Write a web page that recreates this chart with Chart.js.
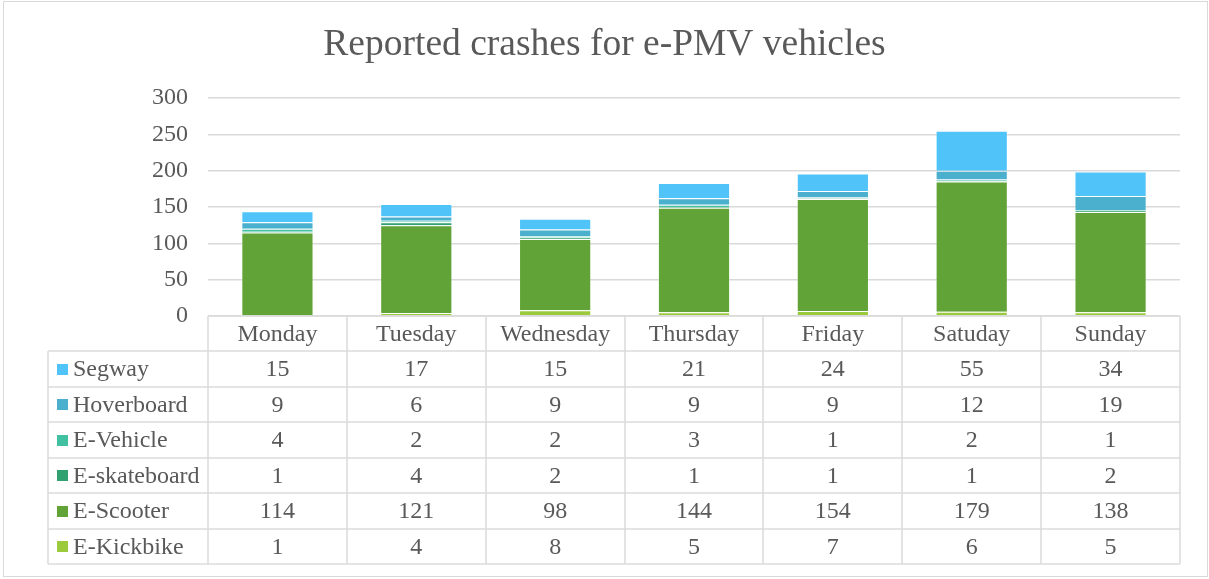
<!DOCTYPE html>
<html>
<head>
<meta charset="utf-8">
<script src="https://cdn.jsdelivr.net/npm/chart.js@4/dist/chart.umd.min.js"></script>
<style>
  html, body { margin: 0; padding: 0; background: #fff; }
  #wrap { position: relative; width: 1209px; height: 579px; }
  #frame { position: absolute; left: 3px; top: 1px; width: 1203px; height: 574px; border: 1px solid #d9d9d9; pointer-events: none; }
</style>
</head>
<body>
<div id="wrap">
  <canvas id="crashCanvas" width="1209" height="579"></canvas>
  <div id="frame"></div>
</div>
<script>
// Chart data
const days = ['Monday', 'Tuesday', 'Wednesday', 'Thursday', 'Friday', 'Satuday', 'Sunday'];
const segway = [15, 17, 15, 21, 24, 55, 34];
const hoverboard = [9, 6, 9, 9, 9, 12, 19];
const eVehicle = [4, 2, 2, 3, 1, 2, 1];
const eSkateboard = [1, 4, 2, 1, 1, 1, 2];
const eScooter = [114, 121, 98, 144, 154, 179, 138];
const eKickbike = [1, 4, 8, 5, 7, 6, 5];
const yTicks = [0, 50, 100, 150, 200, 250, 300];

const textColor = '#595959';
const lineColor = '#d9d9d9';
const serif = '"Liberation Serif", "Times New Roman", serif';

// bottom of the stack first
const series = [
  { label: 'E-Kickbike', data: eKickbike, color: '#9bcb3c' },
  { label: 'E-Scooter', data: eScooter, color: '#62a337' },
  { label: 'E-skateboard', data: eSkateboard, color: '#30a26f' },
  { label: 'E-Vehicle', data: eVehicle, color: '#41c1a2' },
  { label: 'Hoverboard', data: hoverboard, color: '#4bb0ce' },
  { label: 'Segway', data: segway, color: '#50c4f9' }
];

// Draws the data table under the plot, using the x scale for column positions
const dataTable = {
  id: 'dataTable',
  afterDraw(chart) {
    const ctx = chart.ctx;
    const x = chart.scales.x;
    const area = chart.chartArea;
    const colW = (area.right - area.left) / days.length;
    const top = area.bottom;
    const headH = 35;
    const rowH = 35.5;
    const leftX = 48;
    const rows = series.slice().reverse();
    const bottom = top + headH + rowH * rows.length;

    ctx.save();
    ctx.strokeStyle = '#dcdcdc';
    ctx.lineWidth = 1.6;
    ctx.beginPath();
    // top of header row
    ctx.moveTo(area.left, Math.round(top));
    ctx.lineTo(area.right, Math.round(top));
    // row lines
    for (let r = 0; r <= rows.length; r++) {
      const y = Math.round(top + headH + rowH * r);
      ctx.moveTo(leftX, y);
      ctx.lineTo(area.right, y);
    }
    // column lines
    ctx.moveTo(leftX, top + headH);
    ctx.lineTo(leftX, bottom);
    for (let i = 0; i <= days.length; i++) {
      const cx = Math.round(x.getPixelForValue(i) - colW / 2);
      ctx.moveTo(cx, top);
      ctx.lineTo(cx, bottom);
    }
    ctx.stroke();

    ctx.font = '24px ' + serif;
    ctx.fillStyle = textColor;
    ctx.textBaseline = 'middle';
    ctx.textAlign = 'center';
    days.forEach((d, i) => {
      ctx.fillText(d, x.getPixelForValue(i), top + headH / 2 + 1);
    });
    rows.forEach((s, r) => {
      const cy = top + headH + rowH * r + rowH / 2 + 1;
      ctx.textAlign = 'center';
      ctx.fillStyle = textColor;
      s.data.forEach((v, i) => {
        ctx.fillText(String(v), x.getPixelForValue(i), cy);
      });
      ctx.fillStyle = s.color;
      ctx.fillRect(57, Math.round(cy - 6), 11, 11);
      ctx.fillStyle = textColor;
      ctx.textAlign = 'left';
      ctx.fillText(s.label, 73, cy);
    });
    ctx.restore();
  }
};

const config = {
  type: 'bar',
  data: {
    labels: days,
    datasets: series.map(s => ({
      label: s.label,
      data: s.data,
      backgroundColor: s.color,
      borderColor: 'rgba(255,255,255,0.3)',
      borderWidth: 1,
      barPercentage: 1,
      categoryPercentage: 0.52
    }))
  },
  options: {
    responsive: false,
    animation: false,
    layout: { padding: { left: 0, right: 0, top: 0, bottom: 263 } },
    plugins: {
      legend: { display: false },
      tooltip: { enabled: false },
      title: {
        display: true,
        text: 'Reported crashes for e-PMV vehicles',
        color: textColor,
        font: { family: serif, size: 37.5, weight: 'normal' },
        padding: { top: 23, bottom: 30 }
      }
    },
    scales: {
      x: { stacked: true, display: false },
      y: {
        stacked: true,
        min: 0,
        max: 300,
        afterBuildTicks(scale) {
          scale.ticks = yTicks.map(v => ({ value: v }));
        },
        afterFit(scale) { scale.width = 208; },
        border: { display: false },
        grid: { color: lineColor, lineWidth: 1.5, drawTicks: false },
        ticks: {
          color: textColor,
          font: { family: serif, size: 24 },
          padding: 20
        }
      },
      // empty right-hand spacer so the plot ends where the reference does
      yRight: {
        position: 'right',
        afterFit(scale) { scale.width = 29; },
        border: { display: false },
        grid: { display: false, drawTicks: false },
        ticks: { display: false }
      }
    }
  },
  plugins: [dataTable]
};

new Chart(document.getElementById('crashCanvas'), config);
</script>
</body>
</html>
